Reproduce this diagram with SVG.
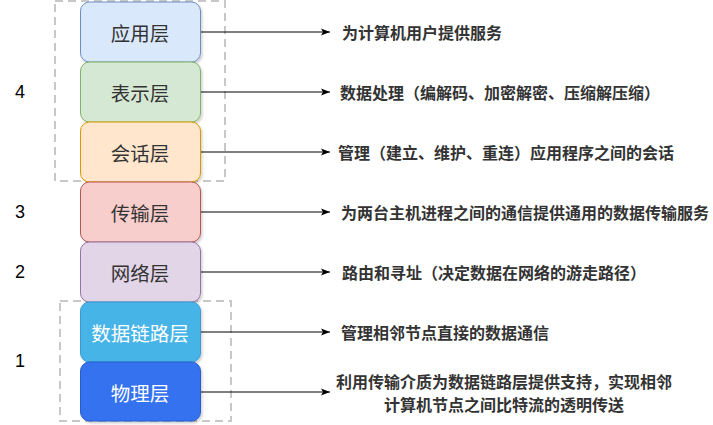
<svg xmlns="http://www.w3.org/2000/svg" width="713" height="425" viewBox="0 0 713 425">
<style>
.grp{fill:none;stroke:#c8c8c8;stroke-width:2;stroke-dasharray:8 5}
.box{stroke-width:1}
.lbl{font-family:"Noto Sans CJK SC","Noto Sans",sans-serif;font-size:19.5px;fill:#333;text-anchor:middle;dominant-baseline:central}
.lblw{fill:#fff}
.num{font-family:"Liberation Sans",Arial,sans-serif;font-size:18px;fill:#000;text-anchor:middle;dominant-baseline:central}
.desc{font-family:"Noto Sans CJK SC","Noto Sans",sans-serif;font-size:16px;font-weight:bold;fill:#333;dominant-baseline:central}
.conn{stroke:#000;stroke-width:1;fill:none;marker-end:url(#arr)}
</style>
<defs>
<marker id="arr" markerWidth="10" markerHeight="8" refX="9" refY="4" orient="auto" markerUnits="userSpaceOnUse">
<path d="M0,0.5 L9,4 L0,7.5 L2,4 Z" fill="#000"/>
</marker>
<filter id="sh" x="-10%" y="-10%" width="130%" height="130%">
<feDropShadow dx="1.5" dy="2" stdDeviation="1" flood-color="#000" flood-opacity="0.18"/>
</filter>
</defs>
<rect width="713" height="425" fill="#fff"/>
<g id="groups">
<rect class="grp" x="55" y="1" width="170" height="180"/>
<rect class="grp" x="60" y="301" width="171" height="120"/>
</g>
<g id="numbers">
<text class="num" x="20" y="92">4</text>
<text class="num" x="20" y="212">3</text>
<text class="num" x="20" y="272">2</text>
<text class="num" x="20" y="361">1</text>
</g>
<g id="connectors">
<line class="conn" x1="201" y1="32" x2="330" y2="32"/>
<line class="conn" x1="201" y1="92" x2="330" y2="92"/>
<line class="conn" x1="201" y1="152" x2="330" y2="152"/>
<line class="conn" x1="201" y1="212" x2="330" y2="212"/>
<line class="conn" x1="201" y1="272" x2="330" y2="272"/>
<line class="conn" x1="201" y1="332" x2="330" y2="332"/>
<line class="conn" x1="201" y1="392" x2="330" y2="392"/>
</g>
<g id="application">
<rect class="box" x="80.5" y="2" width="120" height="60" rx="9" fill="#dae8fc" stroke="#6c8ebf" filter="url(#sh)"/>
<text class="lbl" x="140" y="32">应用层</text>
</g>
<g id="presentation">
<rect class="box" x="80.5" y="62" width="120" height="60" rx="9" fill="#d5e8d4" stroke="#82b366" filter="url(#sh)"/>
<text class="lbl" x="140" y="92">表示层</text>
</g>
<g id="session">
<rect class="box" x="80.5" y="122" width="120" height="60" rx="9" fill="#ffe6cc" stroke="#d79b00" filter="url(#sh)"/>
<text class="lbl" x="140" y="152">会话层</text>
</g>
<g id="transport">
<rect class="box" x="80.5" y="182" width="120" height="60" rx="9" fill="#f8cecc" stroke="#b85450" filter="url(#sh)"/>
<text class="lbl" x="140" y="212">传输层</text>
</g>
<g id="network">
<rect class="box" x="80.5" y="242" width="120" height="60" rx="9" fill="#e1d5e7" stroke="#9673a6" filter="url(#sh)"/>
<text class="lbl" x="140" y="272">网络层</text>
</g>
<g id="datalink">
<rect class="box" x="80.5" y="302" width="120" height="60" rx="9" fill="#47b4e7" stroke="#3a9bd2" filter="url(#sh)"/>
<text class="lbl lblw" x="140" y="332">数据链路层</text>
</g>
<g id="physical">
<rect class="box" x="80.5" y="362" width="120" height="59" rx="9" fill="#3572ef" stroke="#2a5ccc" filter="url(#sh)"/>
<text class="lbl lblw" x="140" y="392">物理层</text>
</g>
<g id="descriptions">
<text class="desc" x="342" y="32">为计算机用户提供服务</text>
<text class="desc" x="340" y="92">数据处理（编解码、加密解密、压缩解压缩）</text>
<text class="desc" x="338" y="152">管理（建立、维护、重连）应用程序之间的会话</text>
<text class="desc" x="341" y="212">为两台主机进程之间的通信提供通用的数据传输服务</text>
<text class="desc" x="342" y="272">路由和寻址（决定数据在网络的游走路径）</text>
<text class="desc" x="341" y="332">管理相邻节点直接的数据通信</text>
<text class="desc" text-anchor="middle"><tspan x="504" y="380.5">利用传输介质为数据链路层提供支持，实现相邻</tspan><tspan x="504" y="403.5">计算机节点之间比特流的透明传送</tspan></text>
</g>
</svg>
